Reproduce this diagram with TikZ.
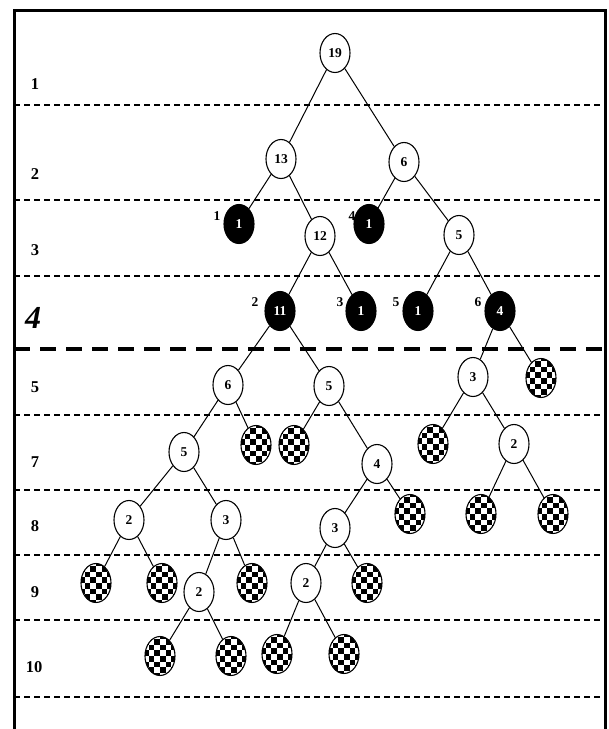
\documentclass[tikz,border=0pt]{standalone}
\usepackage{fontspec}
\setmainfont{Liberation Serif}
\usetikzlibrary{positioning,shapes.geometric}

\begin{document}
\begin{tikzpicture}[x=1pt,y=-1pt,on grid,
  num/.style={ellipse,draw,line width=1.1pt,minimum width=30pt,minimum height=39pt,inner sep=0pt,font=\fontsize{13.5}{13.5}\selectfont\bfseries},
  wnode/.style={num,fill=white},
  bnode/.style={num,fill=black,text=white},
  cnode/.style={num,fill=white,path picture={
    \foreach \i in {0,...,5}
      \foreach \j in {0,...,7}{
        \pgfmathtruncatemacro\chk{mod(\i+\j,2)}
        \ifnum\chk=0 \fill[black] ([shift={(\i*5.6pt-16.8pt,\j*5.6pt-22.4pt)}]path picture bounding box.center) rectangle ++(5.6pt,5.6pt);\fi}}},
  tag/.style={font=\fontsize{13.5}{13.5}\selectfont\bfseries},
  lvl/.style={font=\fontsize{16.5}{16.5}\selectfont\bfseries},
  edge/.style={line width=1pt},
  sep/.style={line width=1.2pt,dash pattern=on 6pt off 4pt},
  bigsep/.style={line width=3.5pt,dash pattern=on 16pt off 10pt}]
  \useasboundingbox (0,0) rectangle (609,729);

  % level rows
  \foreach \yy in {105,200,276,415,490,555,620,697}
    \draw[sep] (14,\yy) -- (605,\yy);
  \draw[bigsep] (14,349) -- (605,349);
  \draw[line width=3pt] (14,729) -- (14,10) -- (605,10) -- (605,729);

  \node[lvl] (l1) at (35,84) {1};
  \node[lvl] (l2) at (35,174) {2};
  \node[lvl] (l3) at (35,250) {3};
  \node[font=\fontsize{32}{32}\selectfont\bfseries\itshape] (l4) at (33,318) {4};
  \node[lvl] (l5) at (35,387) {5};
  \node[lvl] (l7) at (35,462) {7};
  \node[lvl] (l8) at (35,526) {8};
  \node[lvl] (l9) at (35,592) {9};
  \node[lvl] (l10) at (34,667) {10};

  % tree
  \node[wnode] (r19) at (335,53) {19};
  \node[wnode,below left=106pt and 54pt of r19] (a13) {13};
  \node[wnode,below right=109pt and 69pt of r19] (a6) {6};
  \node[bnode,below left=65pt and 42pt of a13] (k1) {1};
  \node[wnode,below right=77pt and 39pt of a13] (b12) {12};
  \node[bnode,below left=62pt and 35pt of a6] (k4) {1};
  \node[wnode,below right=73pt and 55pt of a6] (b5) {5};
  \node[bnode,below left=75pt and 40pt of b12] (k2) {11};
  \node[bnode,below right=75pt and 41pt of b12] (k3) {1};
  \node[bnode,below left=76pt and 41pt of b5] (k5) {1};
  \node[bnode,below right=76pt and 41pt of b5] (k6) {4};

  \node[tag,above left=8pt and 22pt of k1] (t1) {1};
  \node[tag,above left=9pt and 25pt of k2] (t2) {2};
  \node[tag,above left=9pt and 21pt of k3] (t3) {3};
  \node[tag,above left=8pt and 17pt of k4] (t4) {4};
  \node[tag,above left=9pt and 22pt of k5] (t5) {5};
  \node[tag,above left=9pt and 22pt of k6] (t6) {6};

  \node[wnode,below left=74pt and 52pt of k2] (c6) {6};
  \node[wnode,below right=75pt and 49pt of k2] (c5) {5};
  \node[wnode,below left=66pt and 27pt of k6] (c3) {3};
  \node[cnode,below right=67pt and 41pt of k6] (q1) {};
  \node[wnode,below left=67pt and 44pt of c6] (d5) {5};
  \node[cnode,below right=60pt and 28pt of c6] (q2) {};
  \node[cnode,below left=59pt and 35pt of c5] (q3) {};
  \node[wnode,below right=78pt and 48pt of c5] (d4) {4};
  \node[cnode,below left=67pt and 40pt of c3] (q4) {};
  \node[wnode,below right=67pt and 41pt of c3] (d2) {2};
  \node[wnode,below left=68pt and 55pt of d5] (e2) {2};
  \node[wnode,below right=68pt and 42pt of d5] (e3) {3};
  \node[wnode,below left=64pt and 42pt of d4] (f3) {3};
  \node[cnode,below right=50pt and 33pt of d4] (q5) {};
  \node[cnode,below left=70pt and 33pt of d2] (q6) {};
  \node[cnode,below right=70pt and 39pt of d2] (q7) {};
  \node[cnode,below left=63pt and 33pt of e2] (q8) {};
  \node[cnode,below right=63pt and 33pt of e2] (q9) {};
  \node[wnode,below left=72pt and 27pt of e3] (g2) {2};
  \node[cnode,below right=63pt and 26pt of e3] (q10) {};
  \node[wnode,below left=55pt and 29pt of f3] (h2) {2};
  \node[cnode,below right=55pt and 32pt of f3] (q11) {};
  \node[cnode,below left=64pt and 39pt of g2] (q12) {};
  \node[cnode,below right=64pt and 32pt of g2] (q13) {};
  \node[cnode,below left=71pt and 29pt of h2] (q14) {};
  \node[cnode,below right=71pt and 38pt of h2] (q15) {};

  \draw[edge] (r19) -- (a13);
  \draw[edge] (r19) -- (a6);
  \draw[edge] (a13) -- (k1);
  \draw[edge] (a13) -- (b12);
  \draw[edge] (a6) -- (k4);
  \draw[edge] (a6) -- (b5);
  \draw[edge] (b12) -- (k2);
  \draw[edge] (b12) -- (k3);
  \draw[edge] (b5) -- (k5);
  \draw[edge] (b5) -- (k6);
  \draw[edge] (k2) -- (c6);
  \draw[edge] (k2) -- (c5);
  \draw[edge] (k6) -- (c3);
  \draw[edge] (k6) -- (q1);
  \draw[edge] (c6) -- (d5);
  \draw[edge] (c6) -- (q2);
  \draw[edge] (c5) -- (q3);
  \draw[edge] (c5) -- (d4);
  \draw[edge] (c3) -- (q4);
  \draw[edge] (c3) -- (d2);
  \draw[edge] (d5) -- (e2);
  \draw[edge] (d5) -- (e3);
  \draw[edge] (d4) -- (f3);
  \draw[edge] (d4) -- (q5);
  \draw[edge] (d2) -- (q6);
  \draw[edge] (d2) -- (q7);
  \draw[edge] (e2) -- (q8);
  \draw[edge] (e2) -- (q9);
  \draw[edge] (e3) -- (g2);
  \draw[edge] (e3) -- (q10);
  \draw[edge] (f3) -- (h2);
  \draw[edge] (f3) -- (q11);
  \draw[edge] (g2) -- (q12);
  \draw[edge] (g2) -- (q13);
  \draw[edge] (h2) -- (q14);
  \draw[edge] (h2) -- (q15);
\end{tikzpicture}
\end{document}
